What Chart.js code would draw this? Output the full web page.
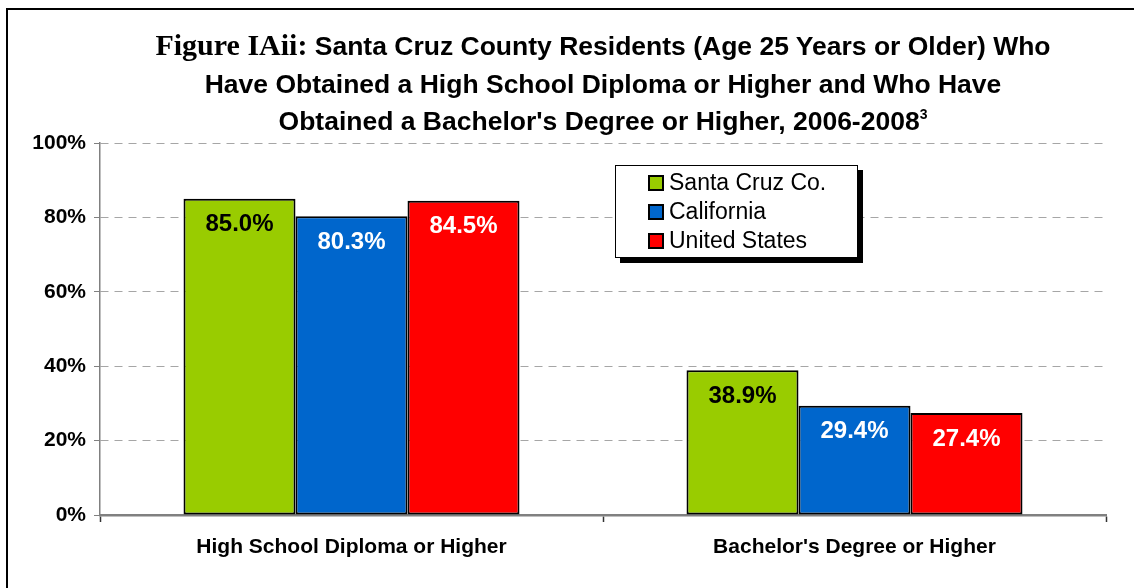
<!DOCTYPE html>
<html>
<head>
<meta charset="utf-8">
<script src="https://cdn.jsdelivr.net/npm/chart.js@4.4.1/dist/chart.umd.min.js"></script>
<style>
  html, body { margin: 0; padding: 0; background: #fff; overflow: hidden; }
  #wrap { position: relative; width: 1134px; height: 588px; overflow: hidden; }
  #title { position: absolute; left: 100px; top: 26px; width: 1006px; text-align: center;
           font: bold 26.5px Arial, "Liberation Sans", sans-serif; line-height: 37.5px; color: #000; }
  #title .fig { font-family: "Liberation Serif", "DejaVu Serif", serif; font-size: 30px; }
  #title sup { font-size: 14px; line-height: 0; vertical-align: 11px; }
  #legend { position: absolute; left: 615px; top: 165px; width: 241px; height: 91px;
            border: 1px solid #000; background: #fff; box-shadow: 5px 5px 0 #000;
            font: 23px Arial, "Liberation Sans", sans-serif; }
  #legend .row { position: absolute; left: 32px; height: 29px; line-height: 29px; white-space: nowrap; }
  #legend .sw { display: inline-block; width: 12px; height: 12px; border: 2px solid #000;
                vertical-align: -1px; margin-right: 5px; }
  canvas { position: absolute; left: 0; top: 0; }
</style>
</head>
<body>
<div id="wrap">
  <canvas id="myChart" width="1134" height="588"></canvas>
  <div id="title">
    <span class="fig">Figure IAii:</span> Santa Cruz County Residents (Age 25 Years or Older) Who<br>
    Have Obtained a High School Diploma or Higher and Who Have<br>
    Obtained a Bachelor's Degree or Higher, 2006-2008<sup>3</sup>
  </div>
  <div id="legend"></div>
</div>
<script>
// chart values
const categories = ["High School Diploma or Higher", "Bachelor's Degree or Higher"];
const seriesNames = ["Santa Cruz Co.", "California", "United States"];
const santaCruz = [85.0, 38.9];
const california = [80.3, 29.4];
const unitedStates = [84.5, 27.4];
const yTicks = [0, 20, 40, 60, 80, 100];

const fillColors = ["#99CC00", "#0066CC", "#FF0000"];
const labelColors = ["#000000", "#FFFFFF", "#FFFFFF"];

/*
    draws the value labels just inside the top of each bar
*/
const barLabels = {
    id: "barLabels",
    afterDatasetsDraw(chart) {
        const ctx = chart.ctx;
        ctx.save();
        ctx.font = "bold 24px Arial, 'Liberation Sans', sans-serif";
        ctx.textAlign = "center";
        ctx.textBaseline = "middle";
        chart.data.datasets.forEach((ds, i) => {
            chart.getDatasetMeta(i).data.forEach((bar, j) => {
                ctx.fillStyle = labelColors[i];
                ctx.fillText(ds.data[j].toFixed(1) + "%", bar.x, bar.y + 26);
            });
        });
        ctx.restore();
    }
};

// the black frame edge on the top and left of the figure
const frameEdge = {
    id: "frameEdge",
    beforeDraw(chart) {
        const ctx = chart.ctx;
        ctx.save();
        ctx.strokeStyle = "#000";
        ctx.lineWidth = 2;
        ctx.beginPath();
        ctx.moveTo(7, chart.height);
        ctx.lineTo(7, 9);
        ctx.lineTo(chart.width, 9);
        ctx.stroke();
        ctx.restore();
    }
};

// legend box built from the series names
const legend = document.getElementById("legend");
seriesNames.forEach((name, i) => {
    let row = document.createElement("div");
    row.className = "row";
    row.style.top = (2 + i * 29) + "px";
    row.innerHTML = '<span class="sw" style="background:' + fillColors[i] + '"></span>' + name;
    legend.append(row);
});

const ctx = document.getElementById("myChart");
new Chart(ctx, {
    type: "bar",
    data: {
        labels: categories,
        datasets: [santaCruz, california, unitedStates].map((vals, i) => ({
            label: seriesNames[i],
            data: vals,
            backgroundColor: fillColors[i],
            borderColor: "#000",
            borderWidth: 2,
            borderSkipped: false,
            categoryPercentage: 0.668,
            barPercentage: 1.0
        }))
    },
    options: {
        responsive: false,
        animation: false,
        events: [],
        layout: { padding: { left: 0, right: 28, top: 143, bottom: 0 } },
        plugins: {
            legend: { display: false },
            title: { display: false },
            tooltip: { enabled: false }
        },
        scales: {
            x: {
                offset: true,
                grid: {
                    offset: true,
                    drawOnChartArea: false,
                    drawTicks: true,
                    tickLength: 7,
                    tickColor: "#333",
                    tickWidth: 1.5
                },
                border: { display: true, color: "#808080", width: 2.5 },
                ticks: {
                    color: "#000",
                    padding: 13,
                    font: { family: "Arial, 'Liberation Sans', sans-serif", size: 21, weight: "bold" }
                },
                afterFit: s => { s.height = 73; }
            },
            y: {
                min: 0,
                max: 100,
                afterBuildTicks: s => { s.ticks = yTicks.map(v => ({ value: v })); },
                grid: {
                    color: "#a6a6a6",
                    lineWidth: 1,
                    tickBorderDash: [],
                    tickColor: "#808080",
                    tickLength: 6
                },
                border: { display: true, color: "#808080", width: 1.5, dash: [8, 6] },
                ticks: {
                    color: "#000",
                    padding: 8,
                    callback: v => v + "%",
                    font: { family: "Arial, 'Liberation Sans', sans-serif", size: 21, weight: "bold" }
                },
                afterFit: s => { s.width = 100; }
            }
        }
    },
    plugins: [frameEdge, barLabels]
});
</script>
</body>
</html>
